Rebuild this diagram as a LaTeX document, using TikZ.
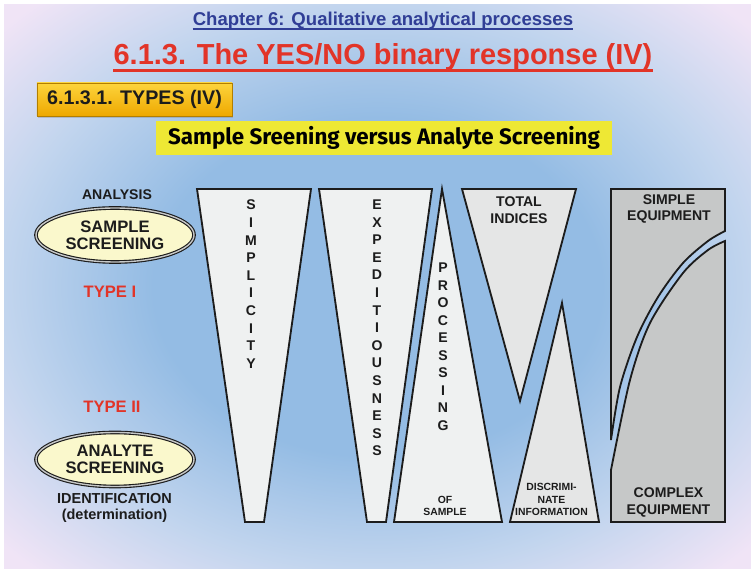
\documentclass[tikz,border=0pt]{standalone}
\usepackage{fontspec}
\setmainfont{Liberation Sans}
\newfontfamily\qacasual{Fira Sans}
\usetikzlibrary{positioning,shapes.geometric,shadows}
\definecolor{QaNavy}{RGB}{48,62,150}
\definecolor{QaRed}{RGB}{226,52,40}
\definecolor{QaInk}{RGB}{28,28,28}
\definecolor{QaSky}{RGB}{148,188,228}
\definecolor{QaMist}{RGB}{194,213,238}
\definecolor{QaHaze}{RGB}{240,228,246}
\definecolor{QaGold}{RGB}{253,212,60}
\definecolor{QaAmber}{RGB}{238,168,0}
\definecolor{QaLemon}{RGB}{238,232,52}
\definecolor{QaCream}{RGB}{250,248,204}
\definecolor{QaPaper}{RGB}{239,241,241}
\definecolor{QaPaperDim}{RGB}{229,230,230}
\definecolor{QaSteel}{RGB}{198,200,200}
\pgfdeclareradialshading{qasky}{\pgfpoint{0bp}{0bp}}{color(0bp)=(QaSky); color(15bp)=(QaSky); color(25bp)=(QaMist); color(34bp)=(QaHaze); color(50bp)=(QaHaze)}
\tikzset{
  qa/text/.style={
    inner sep=0pt,
    text=QaInk,
    align=center,
    font=\bfseries\fontsize{10}{12}\selectfont
  },
  qa/letter/.style={
    inner sep=0pt,
    anchor=base,
    text=QaInk,
    font=\bfseries\fontsize{10}{12}\selectfont
  },
  qa/small/.style={
    inner sep=0pt,
    text=QaInk,
    align=center,
    font=\bfseries\fontsize{7.4}{8.9}\selectfont
  },
  qa/type/.style={inner sep=0pt, text=QaRed, font=\bfseries\fontsize{11.8}{14}\selectfont},
  qa/oval/.style={
    ellipse,
    draw=QaInk,
    line width=0.8pt,
    double=QaSteel,
    double distance=1pt,
    fill=QaCream,
    minimum width=3.95cm,
    minimum height=1.35cm,
    inner sep=0pt,
    align=center,
    text=QaInk,
    font=\bfseries\fontsize{11.8}{12}\selectfont
  },
  qa/funnel/.style={draw=QaInk, line width=1.3pt, line join=miter, fill=QaPaper},
  qa/funneldim/.style={qa/funnel, fill=QaPaperDim},
  qa/equip/.style={qa/funnel, fill=QaSteel}
}
\begin{document}
\begin{tikzpicture}[x=0.025cm,y=-0.025cm]
  \useasboundingbox (0,0) rectangle (751,569);
  \fill[white] (0,0) rectangle (751,569);
  \shade[shading=qasky] (4,5) rectangle (751,569);
  % headings
  \node[inner sep=0pt, anchor=base, text=QaNavy, font=\bfseries\fontsize{13.2}{15}\selectfont] (chapter) at (383,26) {Chapter 6: Qualitative analytical processes};
  \draw[QaNavy, line width=1.1pt] ([yshift=-2.2pt]chapter.base west) -- ([yshift=-2.2pt]chapter.base east);
  \node[inner sep=0pt, anchor=base, text=QaRed, font=\bfseries\fontsize{20.6}{24}\selectfont] (title) at (383,65) {6.1.3. The YES/NO binary response (IV)};
  \draw[QaRed, line width=2pt] ([yshift=-4pt]title.base west) -- ([yshift=-4pt]title.base east);
  \node[draw=QaAmber!75!black, line width=0.4pt, top color=QaGold, bottom color=QaAmber,
    drop shadow={opacity=0.35, shadow xshift=1pt, shadow yshift=-1.5pt},
    minimum width=4.875cm, minimum height=0.825cm, inner sep=0pt, text=QaInk,
    font=\bfseries\fontsize{14}{16}\selectfont] (types) at (134.5,99.5) {6.1.3.1. TYPES (IV)};
  \node[fill=QaLemon, minimum width=11.4cm, minimum height=0.85cm, inner sep=0pt, text=black,
    font=\qacasual\bfseries\fontsize{15.9}{18}\selectfont] (versus) at (384,138) {Sample Sreening versus Analyte Screening};
  % left column
  \node[qa/text] (analysis) at (117,195) {ANALYSIS};
  \node[qa/oval] (sample) at (115,235) {SAMPLE\\SCREENING};
  \node[qa/type] (type1) at (110,292) {TYPE I};
  \node[qa/type] (type2) at (112,406.5) {TYPE II};
  \node[qa/oval] (analyte) at (115,459.5) {ANALYTE\\SCREENING};
  \node[qa/text, font=\bfseries\fontsize{10.3}{10.8}\selectfont] (ident) at (114.5,508) {IDENTIFICATION\\(determination)};
  % funnels
  \draw[qa/funnel] (197,189) -- (311,189) -- (264,522) -- (245,522) -- cycle;
  \draw[qa/funnel] (319,189) -- (432,189) -- (386,522) -- (367,522) -- cycle;
  \draw[qa/funnel] (442,189) -- (502,522) -- (394,522) -- cycle;
  \draw[qa/funneldim] (462,189) -- (576,189) -- (520,401) -- cycle;
  \draw[qa/funneldim] (562,303) -- (599,522) -- (510,522) -- cycle;
  \foreach \ch [count=\i] in {S,I,M,P,L,I,C,I,T,Y}
    \node[qa/letter] (simp\i) at (251,192.4+17.6*\i) {\ch};
  \foreach \ch [count=\i] in {E,X,P,E,D,I,T,I,O,U,S,N,E,S,S}
    \node[qa/letter] (expe\i) at (377,192+17.6*\i) {\ch};
  \foreach \ch [count=\i] in {P,R,O,C,E,S,S,I,N,G}
    \node[qa/letter] (proc\i) at (443,255.5+17.5*\i) {\ch};
  \node[qa/small] (ofsample) at (445,506) {OF\\SAMPLE};
  \node[qa/text] (total) at (519,210.5) {TOTAL\\INDICES};
  \node[qa/small] (discri) at (551.5,499.5) {DISCRIMI-\\NATE\\INFORMATION};
  % equipment
  \draw[qa/equip] (611,189) -- (725,189) -- plot[smooth] coordinates {(725,231) (708,241) (683,263) (658,297) (637,337) (620,387) (611,440)} -- cycle;
  \draw[qa/equip] (725,241) -- (725,522) -- (611,522) -- plot[smooth] coordinates {(611,470) (630,380) (650,323) (683,273) (708,250) (725,241)} -- cycle;
  \node[qa/text] (simple) at (669,209) {SIMPLE\\EQUIPMENT};
  \node[qa/text] (complex) at (668.5,502.5) {COMPLEX\\EQUIPMENT};
\end{tikzpicture}
\end{document}
